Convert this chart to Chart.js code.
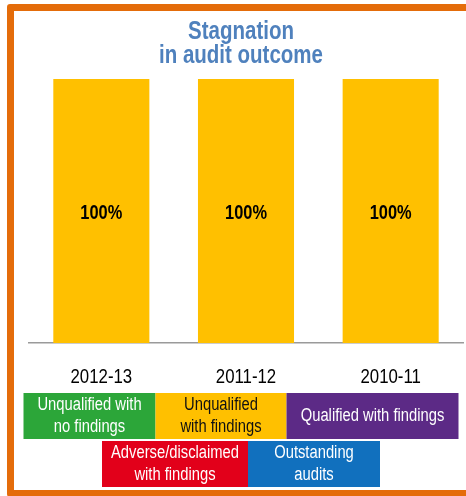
<!DOCTYPE html>
<html>
<head>
<meta charset="utf-8">
<title>Stagnation in audit outcome</title>
<script src="https://cdn.jsdelivr.net/npm/chart.js@4.4.1/dist/chart.umd.min.js"></script>
<style>
    html, body { margin: 0; padding: 0; background: #fff; overflow: hidden; }
    #wrap { position: relative; width: 466px; height: 496px; }
    #frame {
        position: absolute; left: 7px; top: 4px; width: 480px; height: 493px;
        box-sizing: border-box; border: 7px solid #e46c0a; border-radius: 3px;
        pointer-events: none;
    }
    #auditChart { position: absolute; left: 0; top: 0; }
</style>
</head>
<body>
<div id="wrap">
    <canvas id="auditChart" width="466" height="496"></canvas>
    <div id="frame"></div>
</div>
<script>
// ===== DATA =====
const years = ["2012-13", "2011-12", "2010-11"];
const outcomeNames = [
    ["Unqualified with", "no findings"],
    ["Unqualified", "with findings"],
    ["Qualified with findings"],
    ["Adverse/disclaimed", "with findings"],
    ["Outstanding", "audits"]
];
const unqualifiedNoFindings = [0, 0, 0];
const unqualifiedWithFindings = [100, 100, 100];
const qualifiedWithFindings = [0, 0, 0];
const adverseDisclaimed = [0, 0, 0];
const outstandingAudits = [0, 0, 0];
const titleLines = ["Stagnation", "in audit outcome"];

// ===== STYLE =====
const outcomeColors = ["#2ca639", "#ffc000", "#5c2a86", "#e2001a", "#1170be"];
const legendTextColors = ["#fff", "#111", "#fff", "#fff", "#fff"];
const legendRows = [[0, 1, 2], [3, 4]];
const legendWidths = [[132, 131, 172], [146, 132]];
const baseFont = '"Liberation Sans", Arial, sans-serif';
const narrowScale = 0.82; // squeeze text into an Arial Narrow look
const frameCenterX = 241;

const seriesValues = [
    unqualifiedNoFindings,
    unqualifiedWithFindings,
    qualifiedWithFindings,
    adverseDisclaimed,
    outstandingAudits
];

// fillText with a horizontally condensed glyph shape
function fillNarrow(ctx, text, x, y) {
    ctx.save();
    ctx.translate(x, y);
    ctx.scale(narrowScale, 1);
    ctx.fillText(text, 0, 0);
    ctx.restore();
}

// Title drawn centred on the framed panel
const titlePlugin = {
    id: "panelTitle",
    afterDraw(chart) {
        const ctx = chart.ctx;
        ctx.save();
        ctx.fillStyle = "#4f81bd";
        ctx.font = "bold 25px " + baseFont;
        ctx.textAlign = "center";
        ctx.textBaseline = "alphabetic";
        titleLines.forEach((line, i) => {
            fillNarrow(ctx, line, frameCenterX, 39 + i * 24);
        });
        ctx.restore();
    }
};

// Category labels under the axis, drawn condensed
const yearLabelPlugin = {
    id: "yearLabels",
    afterDraw(chart) {
        const ctx = chart.ctx;
        const xScale = chart.scales.x;
        ctx.save();
        ctx.fillStyle = "#000";
        ctx.font = "20.5px " + baseFont;
        ctx.textAlign = "center";
        ctx.textBaseline = "middle";
        xScale.ticks.forEach((tick, i) => {
            fillNarrow(ctx, chart.data.labels[i], xScale.getPixelForTick(i), chart.chartArea.bottom + 34);
        });
        ctx.restore();
    }
};

// Percentage labels in the middle of each non-empty bar
const barLabelPlugin = {
    id: "barLabels",
    afterDatasetsDraw(chart) {
        const ctx = chart.ctx;
        ctx.save();
        ctx.fillStyle = "#000";
        ctx.font = "bold 20px " + baseFont;
        ctx.textAlign = "center";
        ctx.textBaseline = "middle";
        chart.data.datasets.forEach((ds, di) => {
            const meta = chart.getDatasetMeta(di);
            meta.data.forEach((bar, i) => {
                const value = ds.data[i];
                if (!value) return;
                const props = bar.getProps(["x", "y", "base"], true);
                fillNarrow(ctx, value + "%", props.x, (props.y + props.base) / 2 + 2);
            });
        });
        ctx.restore();
    }
};

// Legend as coloured blocks with the label written inside
const blockLegendPlugin = {
    id: "blockLegend",
    afterDraw(chart) {
        const ctx = chart.ctx;
        const boxHeight = 46;
        const rowTops = [393, 441];
        ctx.save();
        ctx.font = "18px " + baseFont;
        ctx.textAlign = "center";
        ctx.textBaseline = "middle";
        legendRows.forEach((row, r) => {
            const widths = legendWidths[r];
            const total = widths.reduce((a, b) => a + b, 0);
            let x = frameCenterX - total / 2;
            row.forEach((idx, k) => {
                const w = widths[k];
                const top = rowTops[r];
                ctx.fillStyle = outcomeColors[idx];
                ctx.fillRect(x, top, w, boxHeight);
                ctx.fillStyle = legendTextColors[idx];
                const lines = chart.data.datasets[idx].label;
                const lineH = 22;
                const startY = top + boxHeight / 2 - (lines.length - 1) * lineH / 2;
                lines.forEach((line, j) => {
                    fillNarrow(ctx, line, x + w / 2, startY + j * lineH);
                });
                x += w;
            });
        });
        ctx.restore();
    }
};

const ctx = document.getElementById("auditChart");
new Chart(ctx, {
    type: "bar",
    data: {
        labels: years,
        datasets: seriesValues.map((values, i) => ({
            label: outcomeNames[i],
            data: values,
            backgroundColor: outcomeColors[i],
            borderWidth: 0,
            categoryPercentage: 1,
            barPercentage: 0.664
        }))
    },
    options: {
        responsive: false,
        animation: false,
        devicePixelRatio: 1,
        layout: {
            padding: { left: 29, right: 3, top: 79, bottom: 81 }
        },
        plugins: {
            legend: { display: false },
            title: { display: false },
            tooltip: { enabled: false }
        },
        scales: {
            x: {
                stacked: true,
                grid: { display: false, drawTicks: false },
                border: { display: true, color: "#9a9a9a", width: 1.5 },
                ticks: {
                    color: "rgba(0,0,0,0)",
                    padding: 24,
                    font: { family: baseFont, size: 20 }
                }
            },
            y: {
                stacked: true,
                display: false,
                min: 0,
                max: 100
            }
        }
    },
    plugins: [titlePlugin, yearLabelPlugin, barLabelPlugin, blockLegendPlugin]
});
</script>
</body>
</html>
